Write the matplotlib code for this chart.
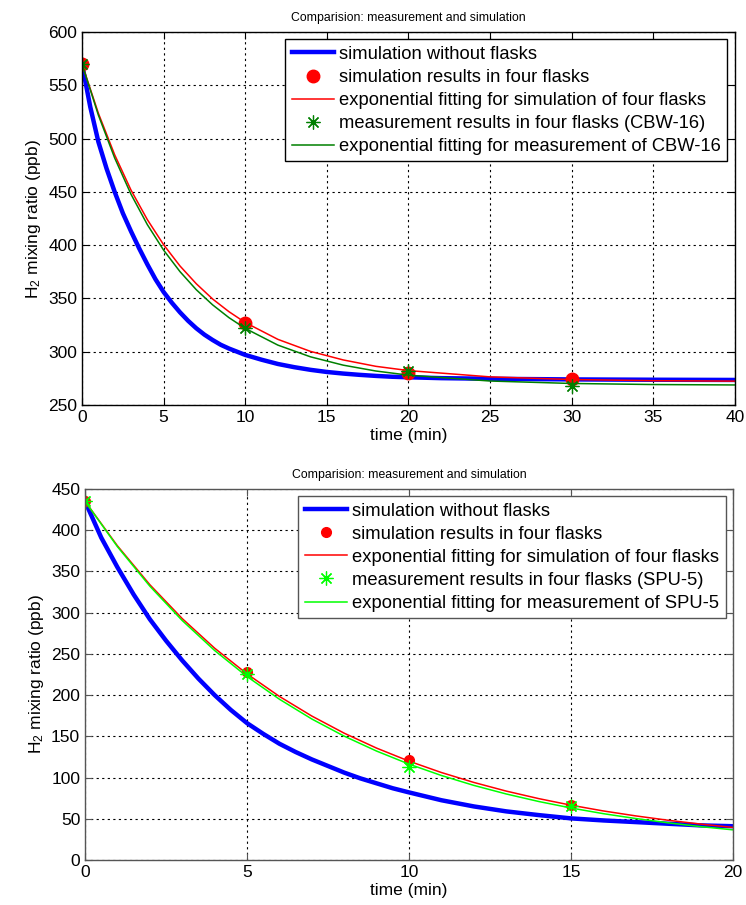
import numpy as np
import matplotlib
matplotlib.use('Agg')
import matplotlib.pyplot as plt

plt.rcParams['font.family'] = ['Liberation Sans', 'DejaVu Sans']
plt.rcParams['mathtext.default'] = 'regular'

# ---- upper panel (CBW-16) ----
t_sim1 = [0, 0.5, 1, 1.5, 2, 2.5, 3, 3.5, 4, 4.5, 5, 5.5, 6, 6.5, 7, 7.5, 8, 8.5, 9, 9.5,
          10, 11, 12, 13, 14, 15, 16, 17, 18, 19, 20, 22, 25, 30, 35, 40]
sim_noflask1 = [570, 530, 497, 472, 450, 430, 413, 397, 382, 368, 356, 346, 337, 329, 322,
                316, 311, 306.5, 303, 300, 297, 292.5, 288.5, 285.5, 283, 281, 279.5,
                278.3, 277.3, 276.5, 276, 275.2, 274.6, 274, 273.7, 273.5]

t_fit1 = [0, 1, 2, 3, 4, 5, 6, 7, 8, 9, 10, 12, 14, 16, 18, 20, 25, 30, 35, 40]
fit_sim1 = [570, 523.8, 484.8, 451.7, 424.0, 400.4, 380.5, 363.8, 349.5, 337.6, 327.4,
            311.6, 300.3, 292.3, 286.3, 282.3, 276.4, 273.9, 272.8, 272.4]
fit_meas1 = [570, 522.1, 481.8, 447.8, 419.3, 395.3, 375.2, 358.2, 344.0, 332.0, 321.9,
             306.2, 295.2, 287.4, 281.9, 278.0, 272.5, 270.2, 269.2, 268.8]

t_flask1 = [0, 10, 20, 30]
sim_flask1 = [570, 327, 280, 274]
meas_flask1 = [570, 322, 282, 267.5]

# ---- lower panel (SPU-5) ----
t_sim2 = [0, 0.5, 1, 1.5, 2, 2.5, 3, 3.5, 4, 4.5, 5, 5.5, 6, 6.5, 7, 7.5, 8, 8.5, 9, 9.5,
          10, 11, 12, 13, 14, 15, 16, 17, 18, 19, 20]
sim_noflask2 = [435, 391, 355, 322, 292, 266, 242, 220, 200, 182, 166, 153, 141, 131, 122,
                114, 106, 99, 93, 87, 82, 72.5, 65, 59, 54.5, 50.5, 48, 46, 44, 42, 41]

t_fit2 = [0, 1, 2, 3, 4, 5, 6, 7, 8, 9, 10, 11, 12, 13, 14, 15, 16, 17, 18, 19, 20]
fit_sim2 = [435, 381.0, 333.9, 292.8, 256.9, 225.7, 198.4, 174.6, 153.8, 135.7, 119.9,
            106.1, 94.1, 83.6, 74.5, 66.5, 59.5, 53.5, 48.2, 43.6, 39.5]
fit_meas2 = [435, 380.0, 332.1, 290.4, 254.1, 222.5, 195.0, 171.0, 150.2, 132.1, 116.3,
             102.5, 90.5, 80.1, 71.0, 63.1, 56.2, 50.3, 45.1, 40.5, 36.6]

t_flask2 = [0, 5, 10, 15]
sim_flask2 = [435, 228, 121, 67]
meas_flask2 = [435, 225, 113, 65]

asterisk = (8, 2, 0)


def draw_panel(ax, t_sim, sim, t_fit, fit_s, fit_m, t_fl, fl_s, fl_m, site, green,
               xmax, ymin, ymax, ystep, dot_ms, box_col):
    ax.plot(t_sim, sim, color='#0000ff', lw=3.2, label='simulation without flasks')
    ax.plot(t_fl, fl_s, 'o', color='red', ms=dot_ms, mec='red',
            label='simulation results in four flasks')
    ax.plot(t_fit, fit_s, color='red', lw=1.1,
            label='exponential fitting for simulation of four flasks')
    ax.plot(t_fl, fl_m, ls='none', marker=asterisk, color=green, ms=10, mew=0.9,
            label='measurement results in four flasks (%s)' % site)
    ax.plot(t_fit, fit_m, color=green, lw=1.1,
            label='exponential fitting for measurement of %s' % site)

    ax.set_xlim(0, xmax)
    ax.set_ylim(ymin, ymax)
    ax.set_xticks(np.arange(0, xmax + 1, 5))
    ax.set_yticks(np.arange(ymin, ymax + 1, ystep))
    ax.grid(True, color='black', ls=(0, (2, 3)), lw=0.8)
    ax.tick_params(direction='in', top=True, right=True, labelsize=12.5, length=5,
                   color=box_col)
    for s in ax.spines.values():
        s.set_color(box_col)
        s.set_linewidth(1.0)
    ax.set_xlabel('time (min)', fontsize=12.5, labelpad=2)
    ax.set_ylabel('H$_2$ mixing ratio (ppb)', fontsize=12.5, labelpad=4)
    ax.set_title('Comparision: measurement and simulation', fontsize=8.8, pad=8)
    leg = ax.legend(loc='upper right', fontsize=13.2, fancybox=False, framealpha=1,
                    edgecolor=box_col, borderpad=0.35, labelspacing=0.33,
                    handlelength=2.3, handletextpad=0.3, borderaxespad=0.4,
                    numpoints=1)
    leg.get_frame().set_linewidth(1.0)


fig = plt.figure(figsize=(7.46, 9.05), dpi=100)
ax1 = fig.add_axes([0.110, 0.5525, 0.875, 0.412])
ax2 = fig.add_axes([0.114, 0.0497, 0.8686, 0.41])

draw_panel(ax1, t_sim1, sim_noflask1, t_fit1, fit_sim1, fit_meas1, t_flask1,
           sim_flask1, meas_flask1, 'CBW-16', '#008000', 40, 250, 600, 50, 9, 'black')
draw_panel(ax2, t_sim2, sim_noflask2, t_fit2, fit_sim2, fit_meas2, t_flask2,
           sim_flask2, meas_flask2, 'SPU-5', '#00ff00', 20, 0, 450, 50, 7, '#555555')

fig.savefig('out.png', dpi=100)
